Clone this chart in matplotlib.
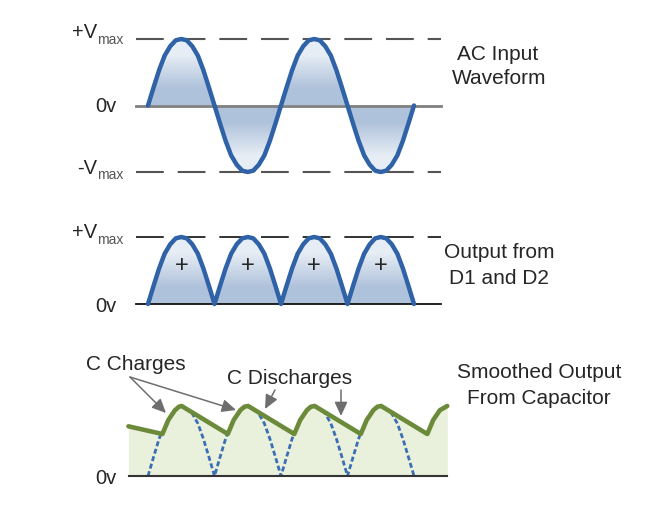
import matplotlib
matplotlib.use('Agg')
import matplotlib.pyplot as plt
from matplotlib.colors import LinearSegmentedColormap
from matplotlib.patches import FancyArrowPatch

plt.rcParams['font.family'] = ['Liberation Sans', 'DejaVu Sans']
plt.rcParams['lines.scale_dashes'] = False

W, H = 647, 527

# phase in degrees, voltage as a fraction of Vmax
phase = list(range(0, 735, 15))
ac_volts = [0, .27, .53, .75, .89, .98, 1, .98, .89, .75, .53, .27,
            0, -.27, -.53, -.75, -.89, -.98, -1, -.98, -.89, -.75, -.53, -.27,
            0, .27, .53, .75, .89, .98, 1, .98, .89, .75, .53, .27,
            0, -.27, -.53, -.75, -.89, -.98, -1, -.98, -.89, -.75, -.53, -.27, 0]
rect_volts = [0, .27, .53, .75, .89, .98, 1, .98, .89, .75, .53, .27,
              0, .27, .53, .75, .89, .98, 1, .98, .89, .75, .53, .27,
              0, .27, .53, .75, .89, .98, 1, .98, .89, .75, .53, .27,
              0, .27, .53, .75, .89, .98, 1, .98, .89, .75, .53, .27, 0]
smooth_phase = [-53, 39, 55, 73, 84, 91, 216, 232, 250, 261, 271, 396, 412, 430, 441, 451,
                576, 592, 610, 621, 631, 756, 772, 790, 810]
smooth_volts = [.71, .6, .8, .94, .99, 1, .6, .8, .94, .99, 1, .6, .8, .94, .99, 1,
                .6, .8, .94, .99, 1, .6, .8, .94, 1]
plus_phase = [90, 270, 450, 630]

BLUE = '#2f62a6'
GREEN = '#6b8a3a'
TEXT = '#262626'
LIGHT = '#e6edf5'
DARK = '#afc2db'
PX_PER_DEG = 266 / 720
X0 = 148


def px_axes(fig, top, bottom):
    # axes spanning the full width, pixel rows top..bottom
    ax = fig.add_axes([0, 1 - bottom / H, 1, (bottom - top) / H])
    ax.set_xlim(-X0 / PX_PER_DEG, (W - X0) / PX_PER_DEG)
    ax.axis('off')
    return ax


def deg(px):
    return (px - X0) / PX_PER_DEG


def gradient_fill(ax, x, y, ymin, ymax, colors):
    cmap = LinearSegmentedColormap.from_list('g', colors)
    patch = ax.fill(x, y, facecolor='none', edgecolor='none')[0]
    im = ax.imshow([[0], [1]], cmap=cmap, aspect='auto', interpolation='bilinear',
                   extent=[x[0], x[-1], ymin, ymax], origin='lower', zorder=1)
    im.set_clip_path(patch)


def label(x, y, s, size=14.5, **kw):
    kw.setdefault('color', TEXT)
    fig.text(x / W, 1 - y / H, s, fontsize=size, va='center', **kw)


def vmax_label(x, y, sign):
    label(x, y, sign + 'V', ha='right')
    label(x, y + 7, 'max', size=10, color='#555555', ha='left')


fig = plt.figure(figsize=(W / 100, H / 100), dpi=100)
fig.patch.set_facecolor('white')

# AC input
ax1 = px_axes(fig, 39, 172)
ax1.set_ylim(-1, 1)
pos = [max(v, 0) for v in ac_volts]
neg = [min(v, 0) for v in ac_volts]
gradient_fill(ax1, phase + [720], pos + [0], 0, 1, [DARK, LIGHT])
gradient_fill(ax1, phase + [720], neg + [0], -1, 0, [LIGHT, DARK])
for level in (1, -1):
    ax1.plot([deg(136), deg(441)], [level, level], color='#555555', lw=1.5,
             linestyle=(0, (20, 10)), clip_on=False, zorder=2)
ax1.plot([deg(136), deg(441)], [0, 0], color='#808080', lw=2, zorder=2)
ax1.plot(phase, ac_volts, color=BLUE, lw=3.2, solid_capstyle='round', clip_on=False, zorder=3)

# rectified output
ax2 = px_axes(fig, 237, 304)
ax2.set_ylim(0, 1)
gradient_fill(ax2, phase + [720], rect_volts + [0], 0, 1, [DARK, LIGHT])
ax2.plot([deg(136), deg(441)], [1, 1], color='#222222', lw=1.3,
         linestyle=(0, (20, 10)), clip_on=False, zorder=2)
ax2.plot([deg(136), deg(441)], [0, 0], color='#111111', lw=1.3, clip_on=False, zorder=2)
ax2.plot(phase, rect_volts, color=BLUE, lw=3.2, solid_capstyle='round', clip_on=False, zorder=3)
for p in plus_phase:
    ax2.text(p, 0.57, '+', fontsize=17, color=TEXT, ha='center', va='center', zorder=4)

# smoothed output, the dashed lobes only show below the green line
ax3 = px_axes(fig, 406, 476)
ax3.set_ylim(0, 1)
under = ax3.fill_between(smooth_phase, smooth_volts, 0, color='#e9f0dc', lw=0, zorder=1)
dashed = ax3.plot(phase, rect_volts, color='#3a6fb5', lw=2, linestyle=(0, (3.6, 2)), zorder=2)[0]
dashed.set_clip_path(under.get_paths()[0], ax3.transData)
ax3.plot([deg(129), deg(447)], [0, 0], color='#333333', lw=1.5, clip_on=False, zorder=3)
ax3.plot(smooth_phase, smooth_volts, color=GREEN, lw=3.3, solid_capstyle='round',
         solid_joinstyle='round', clip_on=False, zorder=4)

# left labels
vmax_label(97, 33, '+')
label(117, 107, '0v', ha='right')
vmax_label(97, 168, '-')
vmax_label(97, 233, '+')
label(117, 306, '0v', ha='right')
label(117, 479, '0v', ha='right')

# right labels
label(498, 55, 'AC Input', size=15, ha='center')
label(499, 79, 'Waveform', size=15, ha='center')
label(499, 253, 'Output from', size=15, ha='center')
label(499, 279, 'D1 and D2', size=15, ha='center')
label(539, 372, 'Smoothed Output', size=15, ha='center')
label(539, 398, 'From Capacitor', size=15, ha='center')

# callouts
label(136, 365, 'C Charges', size=15, ha='center')
label(290, 379, 'C Discharges', size=15, ha='center')

arrows = [((130, 377), (166, 413)), ((130, 377), (236, 410)),
          ((275, 390), (265, 409)), ((341, 390), (341, 416))]
for start, end in arrows:
    fig.add_artist(FancyArrowPatch(
        (start[0] / W, 1 - start[1] / H), (end[0] / W, 1 - end[1] / H),
        transform=fig.transFigure, arrowstyle='-|>,head_length=0.65,head_width=0.3',
        mutation_scale=13, color='#6e6e6e', lw=1.1, shrinkA=0, shrinkB=0, zorder=5))

fig.savefig('out.png', dpi=100)
